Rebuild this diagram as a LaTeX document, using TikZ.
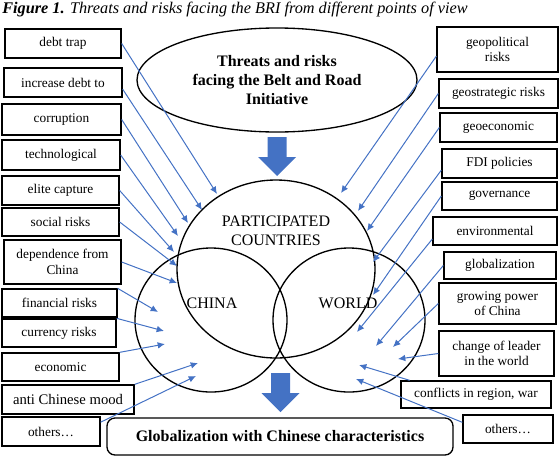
\documentclass[tikz,border=0pt]{standalone}
\usepackage{fontspec}
\setmainfont{Liberation Serif}
\usetikzlibrary{arrows.meta, shapes.geometric}
\definecolor{ArrBlue}{HTML}{4472C4}
\tikzset{
  rbox/.style 2 args={rectangle, draw=black, line width=1pt,
                minimum width=#1*0.75pt, minimum height=#2*0.75pt, inner sep=1pt,
                font=\fontsize{10}{11.5}\selectfont, align=center},
  bigdown/.pic={\fill[ArrBlue] (-9.5,0) -- (9.5,0) -- (9.5,20) -- (19,20)
                -- (0,39) -- (-19,20) -- (-9.5,20) -- cycle;}
}

\begin{document}
\begin{tikzpicture}[x=0.75pt, y=-0.75pt,
          ring/.style={ellipse, draw=black, line width=1pt, inner sep=0pt},
          lbl/.style={font=\fontsize{12}{14}\selectfont, align=center},
          arr/.style={-{Latex[length=5.5pt, width=5pt]}, line width=0.75pt, color=ArrBlue}
        ]
          \useasboundingbox (0,0) rectangle (559,457);
          \node[anchor=west, inner sep=0pt, font=\fontsize{12.2}{14}\selectfont\itshape] (title) at (2,10)
            {\textbf{Figure 1.} Threats and risks facing the BRI from different points of view};

          % top ellipse, circles, bottom box
          \node[ring, minimum width=280*0.75pt, minimum height=104*0.75pt,
                font=\fontsize{12}{14}\selectfont\bfseries, align=center] (bri) at (277,80)
            {Threats and risks\\facing the Belt and Road\\Initiative};
          \node[ring, minimum width=198*0.75pt, minimum height=178*0.75pt] (pc) at (276,269) {};
          \node[ring, minimum width=152*0.75pt, minimum height=144*0.75pt] (cn) at (211,320) {};
          \node[ring, minimum width=152*0.75pt, minimum height=144*0.75pt] (wd) at (349,320) {};
          \node[lbl] (pclbl) at (276,231) {PARTICIPATED\\COUNTRIES};
          \node[lbl] (cnlbl) at (212,303) {CHINA};
          \node[lbl] (wdlbl) at (348,303) {WORLD};
          \node[draw=black, line width=1pt, rounded corners=6pt, minimum width=346*0.75pt,
                minimum height=37*0.75pt, font=\fontsize{12}{14}\selectfont\bfseries] (glob) at (280,436.5)
            {Globalization with Chinese characteristics};
          \pic at (277,137) {bigdown};
          \pic at (280.5,373) {bigdown};

          % left boxes
          \node[rbox={116}{29}] (l1) at (63,43.5) {debt trap};
          \node[rbox={118}{29}] (l2) at (63,82.5) {increase debt to};
          \node[rbox={119}{31}] (l3) at (61.5,119.5) {corruption};
          \node[rbox={118}{30}] (l4) at (61,155) {technological};
          \node[rbox={117}{29}] (l5) at (60.5,190.5) {elite capture};
          \node[rbox={117}{28}] (l6) at (60.5,222) {social risks};
          \node[rbox={117}{44}] (l7) at (62.5,262) {dependence from\\China};
          \node[rbox={115}{28}] (l8) at (59.5,303) {financial risks};
          \node[rbox={114}{28}] (l9) at (59,333) {currency risks};
          \node[rbox={117}{28}] (l10) at (60.5,367) {economic};
          \node[rbox={132}{29}, font=\fontsize{11}{13}\selectfont] (l11) at (68,399.5) {anti Chinese mood};
          \node[rbox={98}{29}] (l12) at (51,431.5) {others…};

          % right boxes
          \node[rbox={121}{45}] (r1) at (497.5,49.5) {geopolitical\\risks};
          \node[rbox={119}{29}] (r2) at (498.5,93.5) {geostrategic risks};
          \node[rbox={117}{29}] (r3) at (498.5,127.5) {geoeconomic};
          \node[rbox={115}{29}] (r4) at (499.5,163.5) {FDI policies};
          \node[rbox={115}{28}] (r5) at (499.5,196) {governance};
          \node[rbox={124}{28}] (r6) at (495,231) {environmental};
          \node[rbox={112}{27}] (r7) at (500,265.5) {globalization};
          \node[rbox={117}{41}] (r8) at (497.5,303.5) {growing power\\of China};
          \node[rbox={115}{45}] (r9) at (496.5,353.5) {change of leader\\in the world};
          \node[rbox={150}{27}] (r10) at (476,394.5) {conflicts in region, war};
          \node[rbox={90}{28}] (r11) at (508,429) {others…};

          % arrow tips
          \coordinate (lt1) at (217,194);  \coordinate (lt2) at (202,210);
          \coordinate (lt3) at (188,223);  \coordinate (lt4) at (178,236);
          \coordinate (lt5) at (174,252);  \coordinate (lt6) at (177,266);
          \coordinate (lt7) at (177,283);  \coordinate (lt8) at (158,312);
          \coordinate (lt9) at (164,331);  \coordinate (lt10) at (165,344);
          \coordinate (lt11) at (198,363); \coordinate (lt12) at (196,376);
          \coordinate (rt1) at (341,193);  \coordinate (rt2) at (358,211);
          \coordinate (rt3) at (367,231);  \coordinate (rt4) at (373,262);
          \coordinate (rt5) at (373,295);  \coordinate (rt6) at (357,332);
          \coordinate (rt7) at (376,346);  \coordinate (rt8) at (393,347);
          \coordinate (rt9) at (398,359);  \coordinate (rt10) at (359,365);
          \coordinate (rt11) at (356,379);

          \foreach \a/\b in {l1.east/lt1, l3.east/lt3, l4.east/lt4, l5.east/lt5,
                             l6.east/lt6, l7.east/lt7, l8.north east/lt8, l9.north east/lt9,
                             l10.north east/lt10, l11.north east/lt11}
            \draw[arr] (\a) -- (\b);
          \draw[arr] ([yshift=-5pt]l2.east) -- (lt2);
          \draw[arr] ([yshift=7pt]l12.east) -- (lt12);
          \foreach \a/\b in {r2.west/rt2, r3.west/rt3, r5.west/rt5, r7.west/rt7,
                             r8.west/rt8, r9.west/rt9}
            \draw[arr] (\a) -- (\b);
          \draw[arr] ([yshift=-5pt]r1.west) -- (rt1);
          \draw[arr] ([yshift=-5pt]r4.west) -- (rt4);
          \draw[arr] ([yshift=-6pt]r6.west) -- (rt6);
          \draw[arr] ([xshift=7pt]r10.north west) -- (rt10);
          \draw[arr] ([yshift=5pt]r11.west) -- (rt11);
        \end{tikzpicture}
\end{document}
